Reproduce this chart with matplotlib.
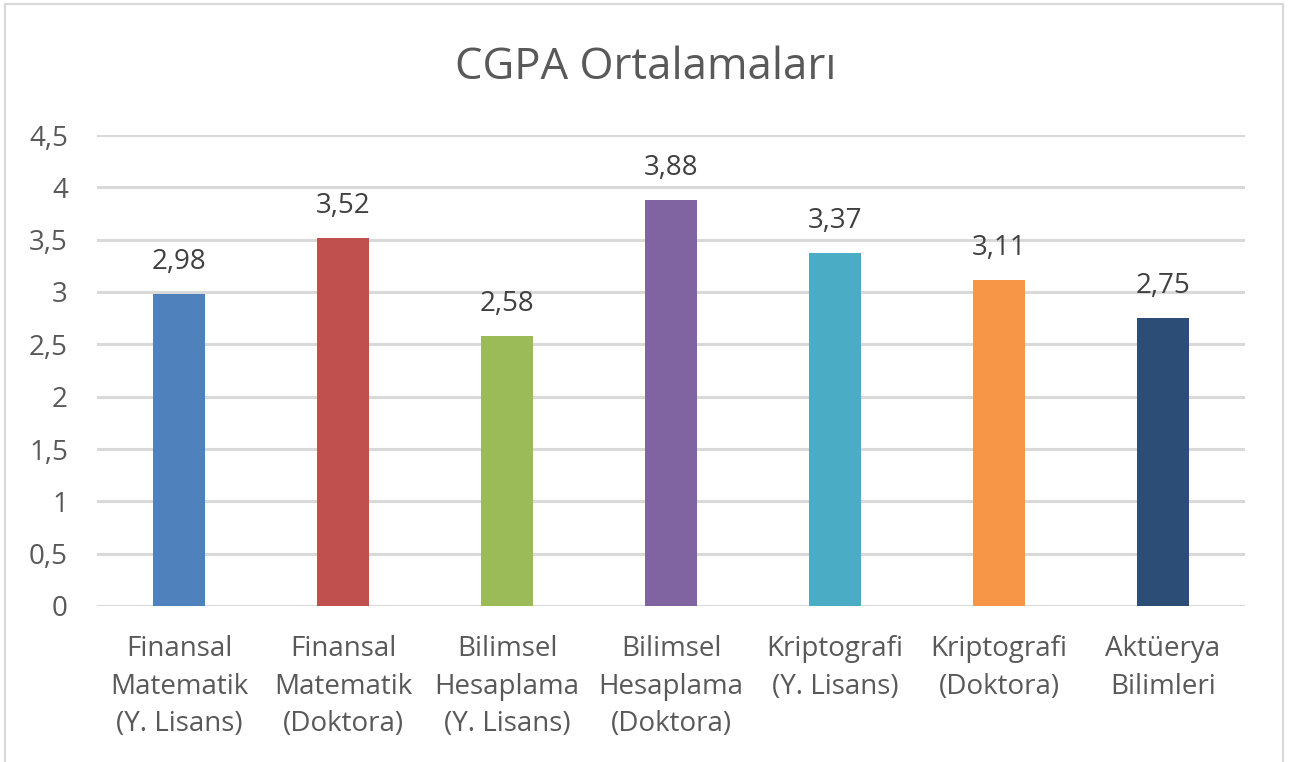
import matplotlib
matplotlib.use("Agg")
import matplotlib.pyplot as plt
from matplotlib.patches import Rectangle

categories = [
    "Finansal\nMatematik\n(Y. Lisans)",
    "Finansal\nMatematik\n(Doktora)",
    "Bilimsel\nHesaplama\n(Y. Lisans)",
    "Bilimsel\nHesaplama\n(Doktora)",
    "Kriptografi\n(Y. Lisans)",
    "Kriptografi\n(Doktora)",
    "Aktüerya\nBilimleri",
]
values = [2.98, 3.52, 2.58, 3.88, 3.37, 3.11, 2.75]
colors = ["#4F81BD", "#C0504D", "#9BBB59", "#8064A2", "#4BACC6", "#F79646", "#2C4D75"]
yticks = [0, 0.5, 1, 1.5, 2, 2.5, 3, 3.5, 4, 4.5]
ytick_labels = ["0", "0,5", "1", "1,5", "2", "2,5", "3", "3,5", "4", "4,5"]
title = "CGPA Ortalamaları"

plt.rcParams['font.family'] = ['Open Sans', 'DejaVu Sans']

W, H = 1293, 762
fig = plt.figure(figsize=(W / 100, H / 100), dpi=100)
fig.patch.set_facecolor("white")

# chart border
fig.patches.append(Rectangle((5 / W, -0.05), (1283 - 5) / W, 1.05 - 4 / H,
                             transform=fig.transFigure, fill=False,
                             edgecolor="#D9D9D9", linewidth=1.6, clip_on=False))

left, right = 97 / W, 1245 / W
bottom, top = 1 - 606 / H, 1 - 135 / H
ax = fig.add_axes([left, bottom, right - left, top - bottom])

fs = 20
x = list(range(len(categories)))
bars = ax.bar(x, values, width=0.32, color=colors, zorder=3)
ax.bar_label(bars, labels=[f"{v:.2f}".replace(".", ",") for v in values],
             padding=13, fontsize=fs, color="#404040")

ax.set_xlim(-0.5, len(categories) - 0.5)
ax.set_ylim(0, 4.5)
ax.set_yticks(yticks)
ax.set_yticklabels(ytick_labels, fontsize=fs, color="#595959")
ax.set_xticks(x)
ax.set_xticklabels(categories, fontsize=fs, color="#595959", linespacing=1.46)
ax.tick_params(axis="y", length=0, pad=21)
ax.tick_params(axis="x", length=0, pad=21)
for s in ax.spines.values():
    s.set_visible(False)
ax.grid(axis="y", color="#D9D9D9", linewidth=2.2, zorder=0)
ax.set_axisbelow(True)
for lbl in ax.get_yticklabels():
    lbl.set_clip_on(False)

fig.text(646 / W, 1 - 79 / H, title, ha="center", va="baseline",
         fontsize=31.5, color="#595959")

fig.savefig("out.png", dpi=100, facecolor="white")
